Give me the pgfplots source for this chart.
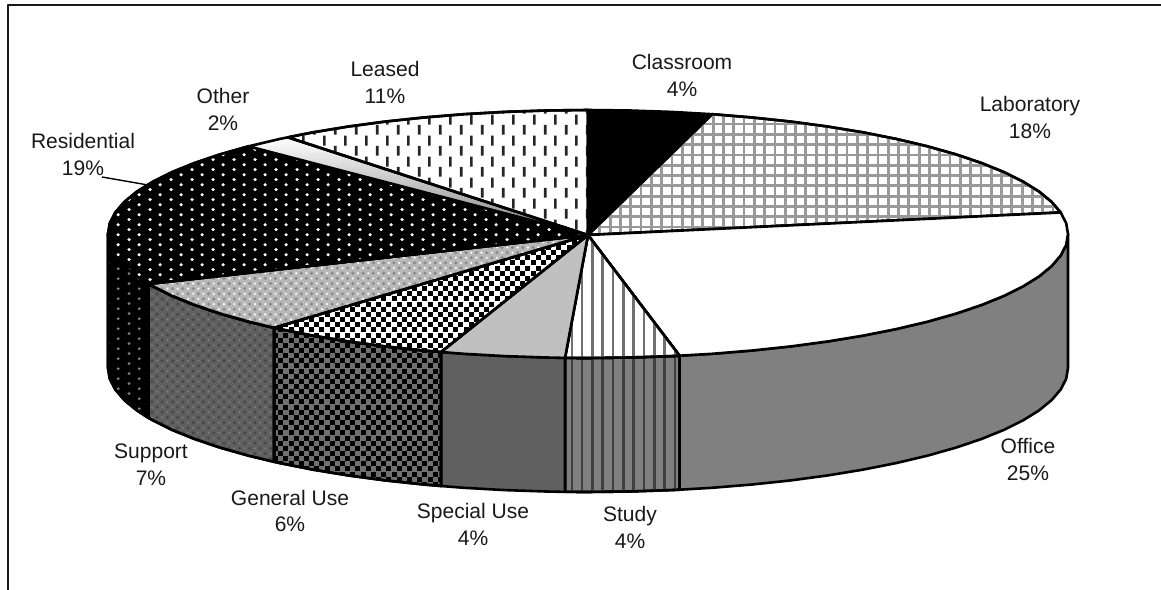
\documentclass[border=0pt]{standalone}
\usepackage{pgfplots}
\pgfplotsset{compat=1.18}
\usepackage{fontspec}
\setmainfont{Liberation Sans}
\usetikzlibrary{patterns}
\definecolor{gA}{gray}{0.5}
\definecolor{gB}{RGB}{96,96,96}
\definecolor{gC}{RGB}{192,192,192}
\definecolor{gD}{RGB}{64,64,64}
\definecolor{gE}{RGB}{112,112,112}
\definecolor{gF}{RGB}{153,153,153}
\definecolor{gG}{RGB}{184,184,184}
\definecolor{gH}{RGB}{140,140,140}
\definecolor{gI}{RGB}{72,72,72}
\definecolor{gJ}{RGB}{128,128,128}
\tikzset{lbl/.style={font=\fontsize{21.1}{27}\selectfont,align=center,anchor=center,text=black!90,inner sep=0pt}}
\newcommand\rc[5]{\pgfsetfillcolor{#1}\pgfpathrectangle{\pgfpoint{#2bp}{#3bp}}{\pgfpoint{#4bp}{#5bp}}\pgfusepath{fill}}
\newcommand\sq[4]{\rc{#1}{#2}{#3}{#4}{#4}}
\newcommand\dt[4]{\pgfsetfillcolor{#1}\pgfpathcircle{\pgfpoint{#2bp}{#3bp}}{#4bp}\pgfusepath{fill}}
% transparent tiles laid over a solid fill, so that no tile seam shows
\newcommand\tile[3]{\pgfdeclarepatterninherentlycolored{#1}{\pgfpoint{-1bp}{-1bp}}{\pgfpoint{11.3bp}{11.3bp}}{\pgfpoint{#2bp}{#2bp}}{#3}}
\tile{labgrid}{10.3}{\rc{gF}{-1}{1}{12.3}{2.8}\rc{gF}{1}{-1}{2.8}{12.3}}
\tile{studytop}{10.3}{\rc{gE}{4}{-1}{2.6}{12.3}}
\tile{studyside}{10.3}{\rc{gD}{4}{-1}{2.6}{12.3}}
\tile{check}{10.3}{\sq{black}{0.1}{0.1}{5}\sq{black}{5.25}{5.25}{5}}
\tile{supptop}{10.3}{\dt{white}{2.6}{2.6}{1.2}\dt{white}{7.75}{7.75}{1.2}\dt{gH}{7.75}{2.6}{1.8}\dt{gH}{2.6}{7.75}{1.8}}
\tile{suppside}{10.3}{\dt{gJ}{2.6}{2.6}{1.0}\dt{gJ}{7.75}{7.75}{1.0}\dt{gI}{7.75}{2.6}{1.8}\dt{gI}{2.6}{7.75}{1.8}}
\pgfdeclarepatterninherentlycolored{resdots}{\pgfpoint{0bp}{0bp}}{\pgfpoint{20.6bp}{10.3bp}}{\pgfpoint{20.6bp}{10.3bp}}{\dt{white}{5.15}{2.6}{1.8}\dt{white}{15.45}{7.75}{1.8}}
\pgfdeclarepatterninherentlycolored{resside}{\pgfpoint{0bp}{0bp}}{\pgfpoint{20.6bp}{10.3bp}}{\pgfpoint{20.6bp}{10.3bp}}{\dt{gA}{5.15}{2.6}{1.6}\dt{gA}{15.45}{7.75}{1.6}}
\pgfdeclarepatterninherentlycolored{dashes}{\pgfpoint{0bp}{0bp}}{\pgfpoint{20.6bp}{20.6bp}}{\pgfpoint{20.6bp}{20.6bp}}{\rc{black!85}{4.0}{0.3}{2.7}{10}\rc{black!85}{14.3}{10.6}{2.7}{10}}
\begin{document}
\begin{tikzpicture}
\begin{axis}[
  width=1161bp,height=590bp,scale only axis,
  xmin=0,xmax=1161,ymin=0,ymax=590,y dir=reverse,
  hide axis,clip=true,
  every axis plot/.append style={no markers,draw=black,line width=2.6bp,line join=round}
]
% sides
\addplot[fill=gA] coordinates {(1068,234)(1066.2,244.8)(1060.7,255.5)(1051.6,266.1)(1039.1,276.4)(1023,286.4)(1003.7,296)(981.2,305.1)(955.7,313.7)(927.4,321.7)(896.5,329)(863.3,335.6)(828,341.4)(790.9,346.4)(752.2,350.5)(712.2,353.8)(679.6,355.7)(679.6,489.7)(712.2,487.8)(752.2,484.5)(790.9,480.4)(828,475.4)(863.3,469.6)(896.5,463)(927.4,455.7)(955.7,447.7)(981.2,439.1)(1003.7,430)(1023,420.4)(1039.1,410.4)(1051.6,400.1)(1060.7,389.5)(1066.2,378.8)(1068,368)} --cycle;
\addplot[preaction={fill=gA},pattern=studyside] coordinates {(679.6,355.7)(671.4,356.1)(629.8,357.5)(588,358)(565,357.9)(565,491.9)(588,492)(629.8,491.5)(671.4,490.1)(679.6,489.7)} --cycle;
\addplot[fill=gB] coordinates {(565,357.9)(546.2,357.5)(504.6,356.1)(463.8,353.8)(441,352)(441,486)(463.8,487.8)(504.6,490.1)(546.2,491.5)(565,491.9)} --cycle;
\addplot[preaction={fill=gE},pattern=check] coordinates {(441,352)(423.8,350.5)(385.1,346.4)(348,341.4)(312.7,335.6)(279.5,329)(274,327.8)(274,461.8)(279.5,463)(312.7,469.6)(348,475.4)(385.1,480.4)(423.8,484.5)(441,486)} --cycle;
\addplot[preaction={fill=gB},pattern=suppside] coordinates {(274,327.8)(248.6,321.7)(220.3,313.7)(194.8,305.1)(172.3,296)(153,286.4)(148.5,283.9)(148.5,417.9)(153,420.4)(172.3,430)(194.8,439.1)(220.3,447.7)(248.6,455.7)(274,461.8)} --cycle;
\addplot[preaction={fill=black},pattern=resside] coordinates {(148.5,283.9)(136.9,276.4)(124.4,266.1)(115.3,255.5)(109.8,244.8)(108,234)(108,368)(109.8,378.8)(115.3,389.5)(124.4,400.1)(136.9,410.4)(148.5,417.9)} --cycle;
% top face
\addplot[fill=black] coordinates {(588,235)(588,110)(629.8,110.5)(671.4,111.9)(712.2,114.2)} --cycle;
\addplot[preaction={fill=white},pattern=labgrid] coordinates {(588,235)(712.2,114.2)(752.2,117.5)(790.9,121.6)(828,126.6)(863.3,132.4)(896.5,139)(927.4,146.3)(955.7,154.3)(981.2,162.9)(1003.7,172)(1023,181.6)(1039.1,191.6)(1051.6,201.9)(1060.7,212.5)} --cycle;
\addplot[fill=white] coordinates {(588,235)(1060.7,212.5)(1066.2,223.2)(1068,234)(1066.2,244.8)(1060.7,255.5)(1051.6,266.1)(1039.1,276.4)(1023,286.4)(1003.7,296)(981.2,305.1)(955.7,313.7)(927.4,321.7)(896.5,329)(863.3,335.6)(828,341.4)(790.9,346.4)(752.2,350.5)(712.2,353.8)(679.6,355.7)} --cycle;
\addplot[preaction={fill=white},pattern=studytop] coordinates {(588,235)(679.6,355.7)(671.4,356.1)(629.8,357.5)(588,358)(565,357.9)} --cycle;
\addplot[fill=gC] coordinates {(588,235)(565,357.9)(546.2,357.5)(504.6,356.1)(463.8,353.8)(441,352)} --cycle;
\addplot[preaction={fill=white},pattern=check] coordinates {(588,235)(441,352)(423.8,350.5)(385.1,346.4)(348,341.4)(312.7,335.6)(279.5,329)(274,327.8)} --cycle;
\addplot[preaction={fill=gG},pattern=supptop] coordinates {(588,235)(274,327.8)(248.6,321.7)(220.3,313.7)(194.8,305.1)(172.3,296)(153,286.4)(148.5,283.9)} --cycle;
\addplot[preaction={fill=black},pattern=resdots] coordinates {(588,235)(148.5,283.9)(136.9,276.4)(124.4,266.1)(115.3,255.5)(109.8,244.8)(108,234)(109.8,223.2)(115.3,212.5)(124.4,201.9)(136.9,191.6)(153,181.6)(172.3,172)(194.8,162.9)(220.3,154.3)(248.6,146.3)} --cycle;
\addplot[left color=white,right color=gray,shading angle=0] coordinates {(588,235)(248.6,146.3)(279.5,139)(288,137.3)} --cycle;
\addplot[preaction={fill=white},pattern=dashes] coordinates {(588,235)(288,137.3)(312.7,132.4)(348,126.6)(385.1,121.6)(423.8,117.5)(463.8,114.2)(504.6,111.9)(546.2,110.5)(588,110)} --cycle;
% leader line and frame
\addplot[line width=1.4bp] coordinates {(102,177)(148,185)};
\addplot[line width=1.5bp,draw=black!90] coordinates {(8,590)(8,5)(1161,5)};
% labels
\node[lbl] at (axis cs:682,75.5) {Classroom\\4\%};
\node[lbl] at (axis cs:1030,117.5) {Laboratory\\18\%};
\node[lbl] at (axis cs:1028,459.5) {Office\\25\%};
\node[lbl] at (axis cs:630,527.5) {Study\\4\%};
\node[lbl] at (axis cs:473,524.5) {Special Use\\4\%};
\node[lbl] at (axis cs:290,511) {General Use\\6\%};
\node[lbl] at (axis cs:151,464.5) {Support\\7\%};
\node[lbl] at (axis cs:83,154.5) {Residential\\19\%};
\node[lbl] at (axis cs:223,109) {Other\\2\%};
\node[lbl] at (axis cs:385,82.5) {Leased\\11\%};
\end{axis}
\path[use as bounding box] (current axis.south west) rectangle (current axis.north east);
\end{tikzpicture}
\end{document}
